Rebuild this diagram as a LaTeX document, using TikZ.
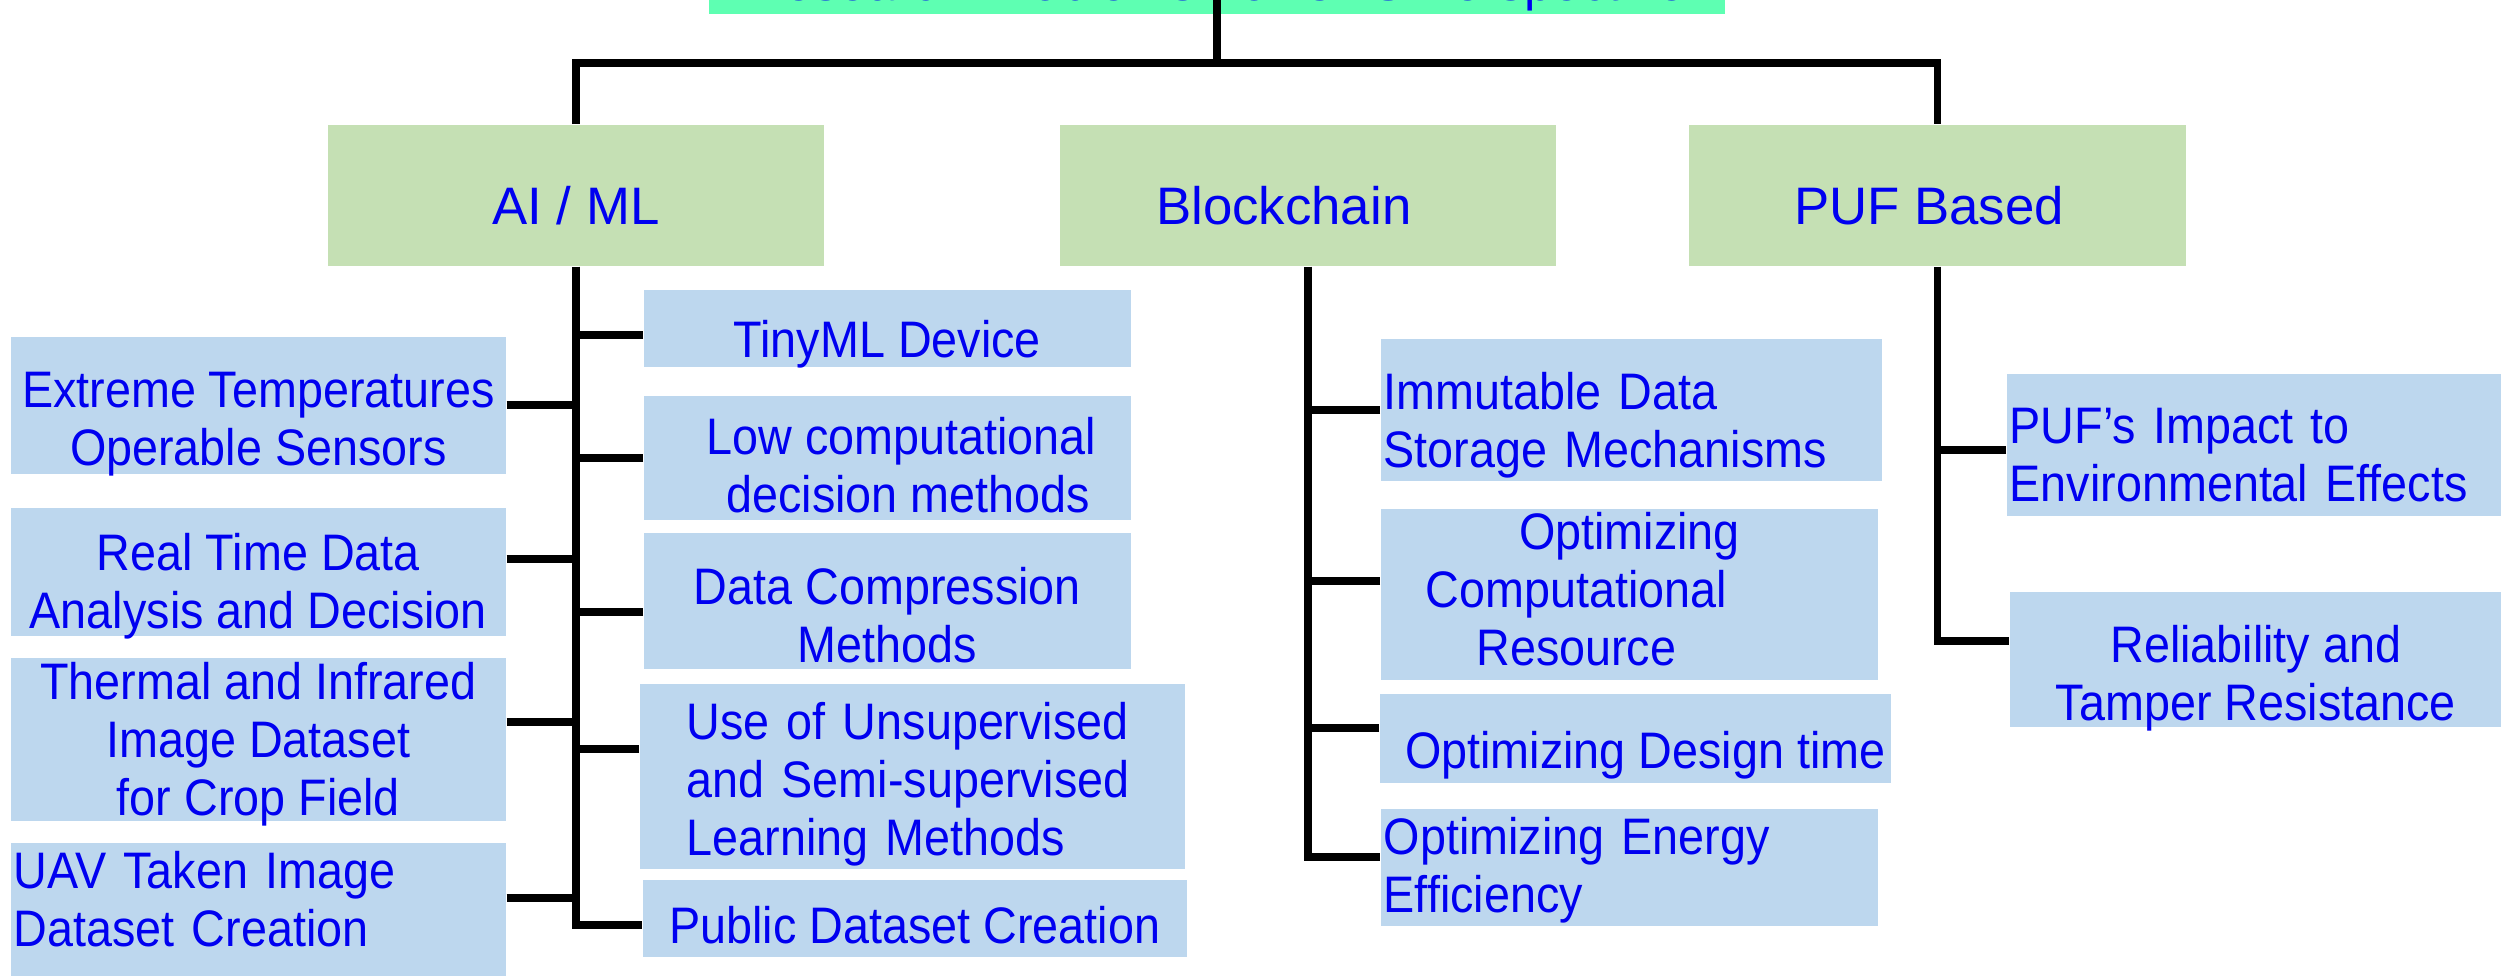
\documentclass[tikz,border=0pt]{standalone}
\usepackage{fontspec}
\setmainfont{Liberation Sans}
\newfontfamily\leaffont[FakeStretch=0.91]{Liberation Sans}
\definecolor{titlemint}{RGB}{94,255,178}
\definecolor{catgreen}{RGB}{197,224,180}
\definecolor{leafblue}{RGB}{189,215,238}
\definecolor{inkblue}{RGB}{0,0,240}

\begin{document}
\begin{tikzpicture}[x=0.01cm, y=-0.01cm,
  tree/.style={line width=2.2pt, black},
  catbox/.style={fill=catgreen, text=inkblue, font=\fontsize{15}{18}\selectfont, anchor=north west,
    inner sep=0pt, minimum height=1.41cm, text height=0.58cm, text depth=0pt},
  leafbox/.style={fill=leafblue, text=inkblue, font=\leaffont\fontsize{14.6}{16.5}\selectfont, anchor=north west,
    inner xsep=0.03cm, inner ysep=0pt, align=center},
  leftleaf/.style={leafbox, align=left},
  textspan/.style 2 args={text height=#1, text depth=#2}
]
\useasboundingbox (0,0) rectangle (2501,975);

\node[fill=titlemint, text=inkblue, font=\fontsize{14.5}{17}\selectfont, anchor=base,
  minimum width=10.16cm, inner ysep=0.03cm] (title) at (1217,0) {Research Problems For CPS Perspective};
\coordinate (hub) at (1217,63);

\node[catbox, minimum width=4.96cm] (aiml) at (327,124) {AI / ML};
\node[catbox, minimum width=4.96cm] (chain) at (1059,124) {Blockchain\hspace*{0.48cm}\null};
\node[catbox, minimum width=4.97cm] (puf) at (1688,124) {PUF Based\hspace*{0.17cm}\null};

% AI / ML, left column
\node[leafbox, textspan={1.29cm}{0.08cm}, minimum width=4.95cm] (ext) at (10,336) {Extreme Temperatures\\Operable Sensors};
\node[leafbox, textspan={1.21cm}{0.07cm}, minimum width=4.95cm] (rtd) at (10,507) {Real Time Data\\Analysis and Decision};
\node[leafbox, textspan={1.58cm}{0.05cm}, minimum width=4.95cm] (thermal) at (10,657) {Thermal and Infrared\\Image Dataset\\for Crop Field};
\node[leftleaf, textspan={0.46cm}{0.87cm}, text width=4.89cm] (uav) at (10,842) {UAV Taken Image\\Dataset Creation};

% AI / ML, right column
\node[leafbox, textspan={0.675cm}{0.095cm}, minimum width=4.87cm] (tiny) at (643,289) {TinyML Device};
\node[leafbox, textspan={1.17cm}{0.07cm}, minimum width=4.87cm] (lowcomp) at (643,395) {\null\hspace*{0.28cm}Low computational\\\null\hspace*{0.42cm}decision methods};
\node[leafbox, textspan={1.3cm}{0.06cm}, minimum width=4.87cm] (datacomp) at (643,532) {Data Compression\\Methods};
\node[leftleaf, textspan={0.56cm}{1.29cm}, text width=4.51cm, inner xsep=0.47cm] (unsup) at (639,683) {Use of Unsupervised\\and Semi-supervised\\Learning Methods};
\node[leafbox, textspan={0.64cm}{0.13cm}, minimum width=5.44cm] (pubdata) at (642,879) {Public Dataset Creation};

% Blockchain
\node[leftleaf, textspan={0.705cm}{0.715cm}, text width=4.95cm] (immut) at (1380,338) {Immutable Data\\Storage Mechanisms};
\node[leafbox, textspan={1.57cm}{0.14cm}, minimum width=4.97cm] (optcomp) at (1380,508) {Optimizing\\Computational\hspace*{1.06cm}\null\\Resource\hspace*{1.06cm}\null};
\node[leafbox, textspan={0.75cm}{0.14cm}, minimum width=5.11cm] (design) at (1379,693) {\null\hspace*{0.2cm}Optimizing Design time};
\node[leftleaf, textspan={0.456cm}{0.714cm}, text width=4.91cm] (energy) at (1380,808) {Optimizing Energy\\Efficiency};

% PUF Based
\node[leftleaf, textspan={0.7cm}{0.72cm}, text width=4.89cm] (impact) at (2006,373) {PUF’s Impact to\\Environmental Effects};
\node[leafbox, textspan={1.286cm}{0.064cm}, minimum width=4.92cm] (reliab) at (2009,591) {Reliability and\\Tamper Resistance};

\draw[tree] (title.base) -- (hub);
\draw[tree] (aiml.north) |- (hub) -| (puf.north);

\draw[tree] (aiml.south) |- ([yshift=-0.07cm]pubdata.west);
\draw[tree] ([yshift=-0.07cm]tiny.west) -- ([yshift=-0.07cm]tiny.west -| aiml.south);
\draw[tree] (lowcomp.west) -- (lowcomp.west -| aiml.south);
\draw[tree] ([yshift=-0.11cm]datacomp.west) -- ([yshift=-0.11cm]datacomp.west -| aiml.south);
\draw[tree] ([yshift=0.27cm]unsup.west) -- ([yshift=0.27cm]unsup.west -| aiml.south);
\draw[tree] (ext.east) -- (ext.east -| aiml.south);
\draw[tree] ([yshift=0.13cm]rtd.east) -- ([yshift=0.13cm]rtd.east -| aiml.south);
\draw[tree] ([yshift=0.17cm]thermal.east) -- ([yshift=0.17cm]thermal.east -| aiml.south);
\draw[tree] ([yshift=0.11cm]uav.east) -- ([yshift=0.11cm]uav.east -| aiml.south);

\draw[tree] (chain.south) |- ([yshift=0.1cm]energy.west);
\draw[tree] (immut.west) -- (immut.west -| chain.south);
\draw[tree] ([yshift=0.13cm]optcomp.west) -- ([yshift=0.13cm]optcomp.west -| chain.south);
\draw[tree] ([yshift=0.1cm]design.west) -- ([yshift=0.1cm]design.west -| chain.south);

\draw[tree] (puf.south) |- ([yshift=0.18cm]reliab.west);
\draw[tree] ([yshift=-0.05cm]impact.west) -- ([yshift=-0.05cm]impact.west -| puf.south);
\end{tikzpicture}
\end{document}
